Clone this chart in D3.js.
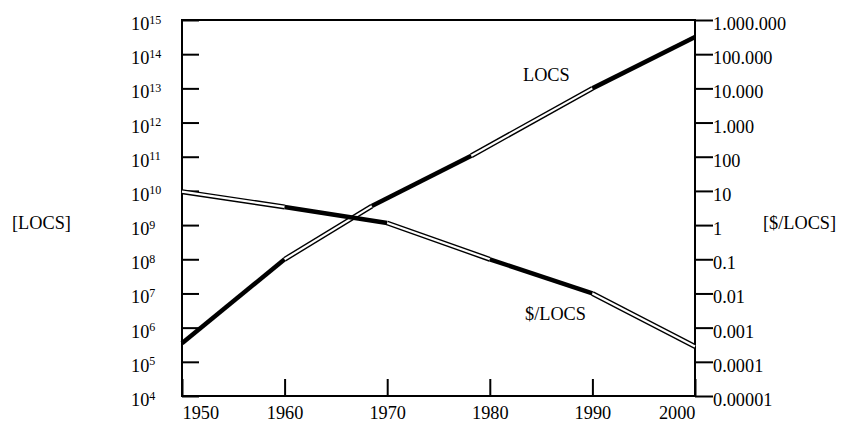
<!DOCTYPE html>
<html>

<head>
  <meta charset="utf-8">
  <title>LOCS and $/LOCS</title>
  <style>
    body { margin: 0; background: #fff; }
  </style>
</head>

<body>

  <script src="https://cdn.jsdelivr.net/npm/d3@7"></script>
  <script>
    // data
    const locsYears = [1950, 1960, 1968.5, 1978.2, 1990, 2000];
    const locsValues = [3.5e5, 1e8, 3.6e9, 1.07e11, 1e13, 3.2e14];

    const costYears = [1950, 1960, 1970, 1980, 1990, 2000];
    const costValues = [9.5, 3.4, 1.15, 0.1, 0.01, 0.00028];

    const yearTicks = [1950, 1960, 1970, 1980, 1990, 2000];
    const locsTicks = [1e4, 1e5, 1e6, 1e7, 1e8, 1e9, 1e10, 1e11, 1e12, 1e13, 1e14, 1e15];
    const costTicks = [1e-5, 1e-4, 1e-3, 1e-2, 1e-1, 1, 10, 100, 1e3, 1e4, 1e5, 1e6];

    const width = 848;
    const height = 423;
    const margin = { top: 20, right: 153, bottom: 27, left: 182 };
    const fontSize = 18.3;
    const serif = "'Liberation Serif', 'Times New Roman', serif";

    const svg = d3.select('body')
      .append('svg')
      .attr('width', width)
      .attr('height', height)
      .attr('font-family', serif);

    const x = d3.scaleLinear()
      .domain([1950, 2000])
      .range([margin.left, width - margin.right]);

    const yLocs = d3.scaleLog()
      .domain([1e4, 1e15])
      .range([height - margin.bottom, margin.top]);

    const yCost = d3.scaleLog()
      .domain([1e-5, 1e6])
      .range([height - margin.bottom, margin.top]);

    const dotted = d3.formatLocale({ decimal: '.', thousands: '.', grouping: [3], currency: ['$', ''] });
    const fmtCost = dotted.format(',.5~f');

    // left axis, ticks pointing inward, labels 10^n left aligned
    const left = svg.append('g')
      .attr('transform', `translate(${margin.left},0)`)
      .call(d3.axisLeft(yLocs).tickValues(locsTicks).tickSizeInner(-17).tickSizeOuter(0))
      .attr('font-family', serif)
      .attr('font-size', fontSize);
    left.select('.domain').remove();
    left.selectAll('.tick line').attr('stroke', '#000').attr('stroke-width', 2);
    left.selectAll('.tick text').each(function (d) {
      const t = d3.select(this);
      t.text(null)
        .attr('x', 131 - margin.left)
        .attr('dy', 9.5)
        .attr('text-anchor', 'start')
        .attr('fill', '#000');
      t.append('tspan').text('10');
      t.append('tspan')
        .attr('dy', -6.5)
        .attr('font-size', 12)
        .text(Math.round(Math.log10(d)));
    });

    // right axis
    const right = svg.append('g')
      .attr('transform', `translate(${width - margin.right},0)`)
      .call(d3.axisLeft(yCost).tickValues(costTicks).tickFormat(fmtCost).tickSizeInner(-18).tickSizeOuter(0))
      .attr('font-family', serif)
      .attr('font-size', fontSize);
    right.select('.domain').remove();
    right.selectAll('.tick line').attr('stroke', '#000').attr('stroke-width', 2);
    right.selectAll('.tick text')
      .attr('x', 18)
      .attr('dy', 9.5)
      .attr('text-anchor', 'start')
      .attr('fill', '#000');

    // bottom axis
    const bottom = svg.append('g')
      .attr('transform', `translate(0,${height - margin.bottom})`)
      .call(d3.axisBottom(x).tickValues(yearTicks).tickFormat(d3.format('d')).tickSizeInner(-17).tickSizeOuter(0))
      .attr('font-family', serif)
      .attr('font-size', fontSize);
    bottom.select('.domain').remove();
    bottom.selectAll('.tick line').attr('stroke', '#000').attr('stroke-width', 2);
    bottom.selectAll('.tick text')
      .attr('y', 23)
      .attr('dy', 0)
      .attr('fill', '#000')
      .attr('text-anchor', (d, i) => i === 0 ? 'start' : i === yearTicks.length - 1 ? 'end' : 'middle');

    // frame
    svg.append('rect')
      .attr('x', margin.left)
      .attr('y', margin.top)
      .attr('width', width - margin.left - margin.right)
      .attr('height', height - margin.top - margin.bottom)
      .attr('fill', 'none')
      .attr('stroke', '#000')
      .attr('stroke-width', 2);

    // lines: segments alternate between solid and hollow
    const drawSeries = (years, values, yScale, firstSolid) => {
      const pts = years.map((yr, i) => [x(yr), yScale(values[i])]);
      const line = d3.line();
      const g = svg.append('g');
      d3.pairs(pts).forEach((seg, i) => {
        const solid = (i % 2 === 0) === firstSolid;
        if (solid) {
          g.append('path').attr('d', line(seg))
            .attr('fill', 'none').attr('stroke', '#000').attr('stroke-width', 4.5);
        } else {
          g.append('path').attr('d', line(seg))
            .attr('fill', 'none').attr('stroke', '#000').attr('stroke-width', 5);
          g.append('path').attr('d', line(seg))
            .attr('fill', 'none').attr('stroke', '#fff').attr('stroke-width', 2.2);
        }
      });
    };

    drawSeries(locsYears, locsValues, yLocs, true);
    drawSeries(costYears, costValues, yCost, false);

    // labels
    const label = (tx, ty, s) => svg.append('text')
      .attr('x', tx).attr('y', ty)
      .attr('font-size', fontSize)
      .attr('fill', '#000')
      .text(s);

    label(523, 81, 'LOCS');
    label(525, 320, '$/LOCS');
    label(12, 229, '[LOCS]');
    label(763, 229, '[$/LOCS]');
  </script>

</body>

</html>
